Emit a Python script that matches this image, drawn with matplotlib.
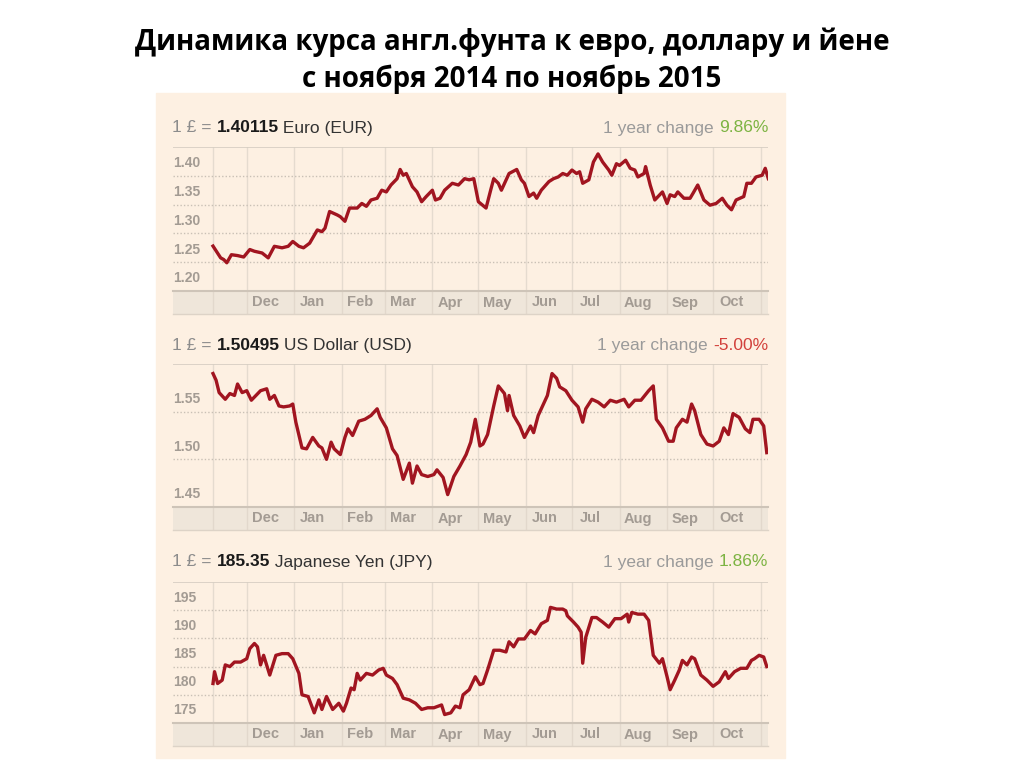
import matplotlib
matplotlib.use('Agg')
import matplotlib.pyplot as plt
from matplotlib import transforms
from matplotlib.patches import Rectangle
import pandas as pd

# ---- data ----
start = pd.Timestamp('2014-11-09')

eur_days = [0, 5, 7, 9, 12, 16, 20, 24, 27, 32, 36, 40, 45, 49, 52, 56, 59, 63, 68, 71, 73,
            76, 81, 83, 86, 89, 94, 97, 100, 103, 107, 110, 113, 116, 120, 122, 124, 126, 130,
            133, 136, 139, 143, 145, 148, 151, 156, 160, 164, 167, 170, 173, 178, 181, 183,
            186, 188, 193, 198, 201, 203, 206, 209, 211, 214, 219, 222, 225, 228, 231, 234,
            237, 239, 241, 245, 248, 251, 254, 258, 260, 263, 265, 269, 272, 275, 277, 281,
            282, 285, 288, 293, 296, 298, 301, 303, 307, 311, 313, 316, 320, 324, 328, 332,
            335, 338, 341, 346, 348, 351, 354, 358, 360, 362]
eur_rates = [1.278, 1.2575, 1.2546, 1.249, 1.263, 1.2615, 1.259, 1.272, 1.269, 1.266, 1.2575,
             1.2776, 1.275, 1.2776, 1.286, 1.2776, 1.275, 1.283, 1.306, 1.303, 1.309, 1.338,
             1.332, 1.329, 1.321, 1.344, 1.344, 1.352, 1.347, 1.358, 1.361, 1.375, 1.372,
             1.384, 1.395, 1.411, 1.401, 1.404, 1.381, 1.372, 1.355, 1.364, 1.375, 1.358,
             1.361, 1.375, 1.387, 1.384, 1.395, 1.393, 1.395, 1.355, 1.344, 1.375, 1.395,
             1.387, 1.375, 1.404, 1.411, 1.393, 1.387, 1.364, 1.370, 1.361, 1.375, 1.390,
             1.395, 1.398, 1.404, 1.401, 1.410, 1.404, 1.407, 1.387, 1.393, 1.424, 1.438,
             1.424, 1.410, 1.401, 1.421, 1.418, 1.427, 1.413, 1.410, 1.398, 1.404, 1.416,
             1.384, 1.358, 1.372, 1.352, 1.367, 1.364, 1.372, 1.361, 1.361, 1.370, 1.384,
             1.358, 1.349, 1.352, 1.361, 1.349, 1.341, 1.358, 1.364, 1.387, 1.387, 1.398,
             1.401, 1.413, 1.395]

usd_days = [0, 2, 4, 8, 11, 14, 16, 19, 22, 25, 31, 35, 37, 40, 43, 46, 50, 52, 54, 58, 61,
            65, 69, 71, 74, 77, 79, 83, 86, 88, 91, 95, 99, 103, 107, 109, 113, 117, 120, 124,
            128, 130, 133, 136, 140, 144, 146, 150, 153, 157, 161, 165, 168, 171, 174, 176,
            179, 183, 186, 190, 192, 193, 196, 200, 203, 207, 209, 212, 214, 218, 221, 224,
            226, 230, 234, 238, 241, 243, 247, 251, 255, 259, 263, 268, 271, 275, 279, 284,
            287, 289, 293, 297, 300, 302, 306, 309, 312, 314, 318, 322, 326, 330, 333, 336,
            339, 343, 347, 350, 352, 356, 359, 361]
usd_rates = [1.590, 1.583, 1.570, 1.563, 1.569, 1.567, 1.579, 1.570, 1.572, 1.562, 1.572,
             1.574, 1.563, 1.567, 1.556, 1.555, 1.556, 1.558, 1.539, 1.512, 1.511, 1.523,
             1.514, 1.512, 1.500, 1.518, 1.511, 1.505, 1.523, 1.532, 1.525, 1.540, 1.542,
             1.546, 1.553, 1.544, 1.533, 1.511, 1.504, 1.479, 1.496, 1.475, 1.493, 1.484,
             1.482, 1.484, 1.489, 1.481, 1.463, 1.482, 1.493, 1.505, 1.518, 1.542, 1.514,
             1.516, 1.526, 1.556, 1.577, 1.569, 1.551, 1.567, 1.546, 1.535, 1.523, 1.535,
             1.528, 1.546, 1.553, 1.567, 1.590, 1.585, 1.576, 1.572, 1.562, 1.555, 1.539,
             1.553, 1.563, 1.560, 1.555, 1.562, 1.560, 1.563, 1.555, 1.562, 1.562, 1.572,
             1.577, 1.542, 1.533, 1.519, 1.519, 1.533, 1.542, 1.539, 1.558, 1.551, 1.526,
             1.516, 1.514, 1.519, 1.533, 1.526, 1.548, 1.544, 1.532, 1.528, 1.542, 1.542,
             1.535, 1.507]

jpy_days = [0, 1, 3, 6, 8, 11, 14, 18, 22, 24, 27, 29, 31, 33, 37, 41, 45, 49, 52, 56, 58,
            62, 66, 69, 71, 74, 78, 82, 85, 87, 90, 92, 94, 96, 100, 104, 108, 111, 113, 117,
            120, 124, 128, 132, 136, 140, 144, 149, 151, 155, 158, 161, 163, 167, 171, 174,
            176, 179, 183, 187, 191, 193, 196, 199, 203, 207, 210, 214, 218, 220, 224, 228,
            230, 231, 235, 238, 240, 241, 243, 247, 250, 254, 258, 262, 266, 270, 271, 273,
            277, 281, 284, 287, 291, 293, 296, 298, 301, 304, 306, 309, 312, 314, 318, 322,
            326, 330, 334, 336, 340, 344, 348, 351, 353, 356, 359, 361]
jpy_rates = [182.0, 184.1, 182.0, 182.6, 185.3, 185.0, 185.8, 185.8, 186.4, 188.2, 189.1,
             188.5, 185.3, 187.0, 183.5, 187.0, 187.3, 187.3, 186.4, 183.8, 180.0, 179.7,
             176.8, 179.1, 177.4, 179.7, 177.4, 178.5, 177.1, 178.5, 181.2, 180.9, 183.8,
             182.6, 183.8, 183.5, 184.4, 184.7, 183.5, 182.9, 181.8, 179.4, 179.1, 178.5,
             177.4, 177.7, 177.7, 178.2, 176.5, 176.8, 178.0, 177.7, 180.0, 180.9, 183.2,
             181.8, 182.0, 184.4, 187.9, 187.9, 187.6, 189.4, 188.5, 189.9, 189.9, 191.4,
             190.8, 192.6, 193.2, 195.5, 195.2, 195.2, 194.9, 194.0, 192.9, 192.0, 191.1,
             185.6, 190.2, 193.7, 193.7, 192.9, 192.0, 193.5, 193.5, 194.3, 192.9, 194.6,
             194.3, 194.3, 193.2, 187.0, 185.6, 186.4, 183.2, 180.9, 182.6, 184.4, 186.1,
             185.3, 186.7, 186.4, 183.5, 182.6, 181.5, 182.3, 184.1, 182.9, 184.1, 184.7,
             184.7, 186.1, 186.4, 187.0, 186.7, 185.0]

month_starts = pd.date_range('2014-12-01', '2015-11-01', freq='MS')
month_labels = ['Dec', 'Jan', 'Feb', 'Mar', 'Apr', 'May', 'Jun', 'Jul', 'Aug', 'Sep', 'Oct']

panels = [
    dict(days=eur_days, rates=eur_rates, last='1.40115', name=' Euro (EUR)', change='9.86%',
         ticks=[1.20, 1.25, 1.30, 1.35, 1.40], top=1.45, fmt='{:.2f}'),
    dict(days=usd_days, rates=usd_rates, last='1.50495', name=' US Dollar (USD)', change='-5.00%',
         ticks=[1.45, 1.50, 1.55], top=1.60, fmt='{:.2f}'),
    dict(days=jpy_days, rates=jpy_rates, last='185.35', name=' Japanese Yen (JPY)', change='1.86%',
         ticks=[175, 180, 185, 190, 195], top=200, fmt='{:.0f}'),
]

# ---- layout (pixels of the 1024x767 output) ----
W, H = 1024, 767
header_y = [128, 346, 562]
plot_box = [(147, 291), (364, 507), (582, 723)]
band_h = 23
x_left, x_right = 173, 768
data_left_px = 213
px_per_day = 1.534

bg = '#FDF0E2'
band_col = '#EFE6DA'
line_col = '#A11520'
grey_txt = '#A39B93'

plt.rcParams['font.family'] = ['Liberation Sans', 'DejaVu Sans']

fig = plt.figure(figsize=(W / 100, H / 100), dpi=100)
fig.patch.set_facecolor('white')
fig.patches.append(Rectangle((156 / W, 1 - 758 / H), (785 - 156) / W, (758 - 93) / H,
                             transform=fig.transFigure, color=bg, zorder=-5))

fig.text(0.5, 1 - 42 / H, 'Динамика курса англ.фунта к евро, доллару и йене',
         ha='center', va='center', fontsize=20, fontweight='bold', family='Open Sans')
fig.text(0.5, 1 - 79 / H, 'с ноября 2014 по ноябрь 2015',
         ha='center', va='center', fontsize=20, fontweight='bold', family='Open Sans')

renderer = fig.canvas.get_renderer()


def chain(x, y, parts, right=False):
    # parts: list of (text, colour, weight); placed one after another
    seq = parts[::-1] if right else parts
    for s, c, w in seq:
        t = fig.text(x / W, 1 - y / H, s, color=c, fontweight=w, fontsize=12.5,
                     ha='right' if right else 'left', va='center')
        bb = t.get_window_extent(renderer)
        x = bb.x0 if right else bb.x1


xmin = start - pd.Timedelta(days=(data_left_px - x_left) / px_per_day)
xmax = start + pd.Timedelta(days=(x_right - data_left_px) / px_per_day)
vlines = [start] + list(month_starts)

for p, hy, (top_px, bot_px) in zip(panels, header_y, plot_box):
    chain(172, hy, [('1 £ = ', '#8C8C8C', 'normal'), (p['last'], '#1A1A1A', 'bold'),
                    (p['name'], '#333333', 'normal')])
    chg_col = '#D2403B' if p['change'].startswith('-') else '#7CB342'
    chain(768, hy, [('1 year change ', '#9A9A9A', 'normal'), (p['change'], chg_col, 'normal')],
          right=True)

    ax = fig.add_axes([x_left / W, 1 - bot_px / H, (x_right - x_left) / W, (bot_px - top_px) / H])
    ax.set_facecolor('none')
    ax.set_xlim(xmin, xmax)
    ax.set_ylim(p['ticks'][0], p['top'])
    for s in ax.spines.values():
        s.set_visible(False)
    ax.set_xticks([])
    ax.set_yticks([])

    for d in vlines:
        ax.axvline(d, color='#E5DBCF', lw=1, zorder=1)
    for v in p['ticks'][1:]:
        ax.axhline(v, color='#C9C0B5', lw=1, ls=(0, (1, 1.5)), zorder=1)
    ax.axhline(p['top'], color='#D6CDC2', lw=1.2, zorder=1)

    lab_tr = transforms.offset_copy(ax.get_yaxis_transform(), fig=fig, x=0, y=4, units='points')
    for v in p['ticks']:
        ax.text(0.0, v, p['fmt'].format(v), transform=lab_tr, ha='left', va='bottom',
                fontsize=10, fontweight='bold', color=grey_txt)

    dates = start + pd.to_timedelta(p['days'], unit='D')
    ax.plot(dates, p['rates'], color=line_col, lw=2.4, zorder=3, solid_joinstyle='round')

    band = fig.add_axes([x_left / W, 1 - (bot_px + band_h) / H, (x_right - x_left) / W, band_h / H])
    band.set_facecolor(band_col)
    band.set_xlim(xmin, xmax)
    band.set_ylim(0, 1)
    band.set_xticks([])
    band.set_yticks([])
    for k in ['left', 'right']:
        band.spines[k].set_visible(False)
    band.spines['top'].set_color('#CEC4B8')
    band.spines['top'].set_linewidth(1.5)
    band.spines['bottom'].set_color('#DDD3C7')
    band.spines['bottom'].set_linewidth(1)
    for d in vlines:
        band.axvline(d, color='#E2D8CC', lw=1)
    for m, lab in zip(month_starts[:-1], month_labels):
        band.text(m + pd.Timedelta(days=12), 0.5, lab, ha='center', va='center',
                  fontsize=10.5, fontweight='bold', color=grey_txt)

fig.savefig('out.png', dpi=100, facecolor='white')
